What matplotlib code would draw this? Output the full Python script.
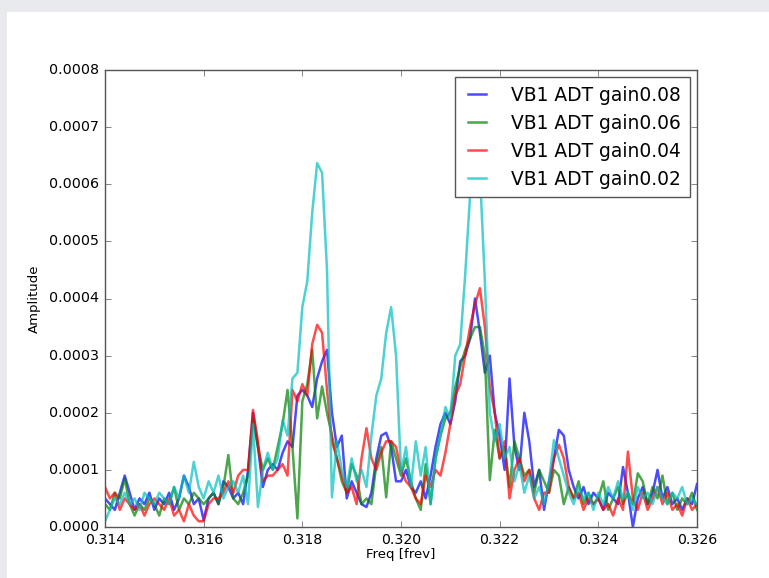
import numpy as np
import matplotlib
matplotlib.use("Agg")
import matplotlib.pyplot as plt
from matplotlib.patches import Rectangle
from matplotlib.ticker import FormatStrFormatter

plt.style.use("classic")

# frequency axis in units of frev
freq = np.round(np.arange(0.3140, 0.32605, 0.0001), 4)

# spectrum amplitudes, in units of 1e-4
amp_g008 = [0.5, 0.4, 0.3, 0.6, 0.9, 0.6, 0.3, 0.5, 0.4, 0.6,
            0.3, 0.5, 0.4, 0.6, 0.3, 0.5, 0.9, 0.7, 0.4, 0.5,
            0.12, 0.5, 0.6, 0.4, 0.8, 0.7, 0.5, 0.6, 0.4, 1.0,
            2.0, 1.4, 0.7, 1.0, 1.1, 1.0, 1.3, 1.5, 1.4, 2.3,
            2.4, 2.3, 2.1, 2.6, 2.9, 3.1, 2.0, 1.4, 1.6, 0.5,
            0.8, 0.6, 0.4, 0.35, 0.6, 1.2, 1.6, 1.65, 1.4, 0.8,
            0.8, 1.0, 0.7, 0.6, 0.8, 0.5, 0.9, 1.4, 1.8, 2.0,
            1.8, 2.2, 2.9, 3.0, 3.3, 4.0, 3.4, 2.7, 3.0, 2.0,
            1.6, 1.0, 2.6, 1.4, 1.0, 2.0, 1.5, 0.7, 1.0, 0.3,
            0.8, 1.2, 1.7, 1.6, 1.0, 0.7, 0.5, 0.7, 0.4, 0.6,
            0.5, 0.3, 0.6, 0.5, 0.4, 1.05, 0.6, 0.0, 0.5, 0.7,
            0.4, 0.6, 1.0, 0.5, 0.7, 0.4, 0.5, 0.3, 0.5, 0.4,
            0.75]

amp_g006 = [0.4, 0.3, 0.6, 0.5, 0.85, 0.4, 0.2, 0.4, 0.3, 0.5,
            0.4, 0.2, 0.5, 0.4, 0.7, 0.3, 0.5, 0.4, 0.6, 0.5,
            0.4, 0.5, 0.6, 0.4, 0.7, 1.26, 0.5, 0.4, 0.6, 0.9,
            1.9, 1.4, 1.0, 1.2, 1.0, 1.4, 1.8, 2.4, 1.4, 0.15,
            2.2, 2.5, 3.1, 1.9, 2.46, 2.0, 1.6, 1.2, 0.8, 0.6,
            1.1, 0.9, 0.4, 0.5, 0.4, 1.1, 1.4, 0.52, 1.5, 1.2,
            0.9, 1.2, 0.8, 0.5, 0.3, 1.1, 0.4, 1.2, 1.6, 1.9,
            2.0, 2.45, 2.8, 3.1, 3.3, 3.5, 3.5, 3.0, 0.82, 1.7,
            1.2, 1.4, 0.7, 1.5, 1.2, 0.9, 1.0, 0.6, 1.0, 0.8,
            0.6, 1.0, 0.9, 0.4, 0.7, 0.5, 0.8, 0.4, 0.6, 0.4,
            0.5, 0.8, 0.3, 0.5, 0.7, 0.4, 0.6, 0.4, 0.94, 0.8,
            0.4, 0.7, 0.5, 0.9, 0.4, 0.6, 0.3, 0.5, 0.4, 0.6,
            0.3]

amp_g004 = [0.7, 0.5, 0.6, 0.3, 0.5, 0.4, 0.3, 0.4, 0.2, 0.4,
            0.5, 0.4, 0.3, 0.5, 0.2, 0.3, 0.1, 0.4, 0.2, 0.1,
            0.1, 0.4, 0.5, 0.5, 0.6, 0.8, 0.6, 0.9, 1.0, 1.0,
            2.05, 1.5, 0.8, 0.9, 0.9, 1.0, 1.1, 0.9, 2.4, 2.2,
            2.5, 2.3, 3.2, 3.54, 3.4, 2.4, 1.5, 1.2, 0.9, 0.6,
            0.7, 0.4, 1.2, 1.73, 1.2, 1.0, 1.3, 1.5, 1.5, 1.4,
            1.0, 0.8, 0.7, 0.5, 0.4, 0.9, 0.7, 1.0, 0.9, 1.3,
            1.8, 2.3, 2.5, 3.0, 3.5, 3.9, 4.18, 3.5, 2.45, 2.0,
            1.2, 1.5, 0.5, 1.0, 1.2, 0.8, 1.0, 0.5, 0.3, 0.6,
            0.6, 1.2, 1.44, 1.2, 0.7, 0.5, 0.6, 0.3, 0.5, 0.4,
            0.5, 0.3, 0.4, 0.2, 0.5, 0.3, 1.32, 0.5, 0.3, 0.6,
            0.3, 0.5, 0.7, 0.4, 0.6, 0.3, 0.4, 0.2, 0.5, 0.3,
            0.4]

amp_g002 = [0.1, 0.3, 0.5, 0.4, 0.6, 0.4, 0.5, 0.3, 0.6, 0.5,
            0.4, 0.6, 0.5, 0.4, 0.7, 0.5, 0.9, 0.6, 1.14, 0.7,
            0.5, 0.8, 0.6, 0.9, 0.5, 0.7, 0.8, 0.6, 0.9, 0.4,
            1.8, 0.35, 1.0, 1.3, 1.0, 1.2, 1.87, 1.6, 2.6, 2.7,
            3.85, 4.3, 5.5, 6.37, 6.2, 4.5, 0.52, 1.5, 1.0, 0.7,
            1.2, 0.8, 1.0, 0.7, 1.6, 2.3, 2.6, 3.4, 3.85, 3.0,
            0.95, 1.4, 0.7, 1.5, 0.9, 1.4, 0.4, 1.2, 1.6, 2.1,
            1.9, 3.0, 3.2, 4.4, 5.8, 6.9, 6.2, 4.3, 2.0, 1.5,
            1.8, 1.2, 1.4, 0.8, 1.1, 0.6, 0.9, 0.5, 0.7, 0.4,
            0.8, 1.52, 1.2, 0.9, 0.6, 0.4, 0.7, 0.5, 0.6, 0.3,
            0.6, 0.4, 0.7, 0.5, 0.8, 0.5, 0.6, 0.3, 0.7, 0.5,
            0.6, 0.4, 0.7, 0.5, 0.4, 0.6, 0.5, 0.7, 0.4, 0.5,
            0.4]

series = [amp_g008, amp_g006, amp_g004, amp_g002]
labels = ["VB1 ADT gain0.08", "VB1 ADT gain0.06", "VB1 ADT gain0.04", "VB1 ADT gain0.02"]
colors = ["b", "g", "r", "c"]

fig = plt.figure(figsize=(7.69, 5.78), dpi=100, facecolor="#e8eaee")
# white slide panel behind the axes
fig.patches.append(Rectangle((7 / 769, 0), 1, 1 - 12 / 578, transform=fig.transFigure,
                             facecolor="white", edgecolor="none", zorder=-10))

ax = fig.add_axes([105 / 769, 51 / 578, 592 / 769, 457 / 578])
ax.set_zorder(5)
for amp, lab, col in zip(series, labels, colors):
    ax.plot(freq, np.array(amp) * 1e-4, color=col, lw=1.8, alpha=0.7, label=lab)

ax.set_xlim(0.314, 0.326)
ax.set_ylim(0, 0.0008)
ax.set_xticks(np.arange(0.314, 0.3261, 0.002))
ax.set_yticks(np.arange(0, 0.00081, 0.0001))
ax.xaxis.set_major_formatter(FormatStrFormatter("%.3f"))
ax.yaxis.set_major_formatter(FormatStrFormatter("%.4f"))
ax.tick_params(axis="x", labelsize=10.2, color="#555555")
ax.tick_params(axis="y", labelsize=10.3, color="#555555")
for s in ax.spines.values():
    s.set_color("#555555")
ax.set_xlabel("Freq [frev]", fontsize=9.5, labelpad=1)
ax.set_ylabel("Amplitude", fontsize=9.5, labelpad=6)

leg = ax.legend(loc="upper right", fontsize=13.4, handlelength=1.55, handletextpad=1.05,
                borderpad=0.45, borderaxespad=0.4, labelspacing=0.48, framealpha=1)
leg.get_frame().set_edgecolor("#555555")

fig.savefig("out.png", dpi=100, facecolor=fig.get_facecolor())
